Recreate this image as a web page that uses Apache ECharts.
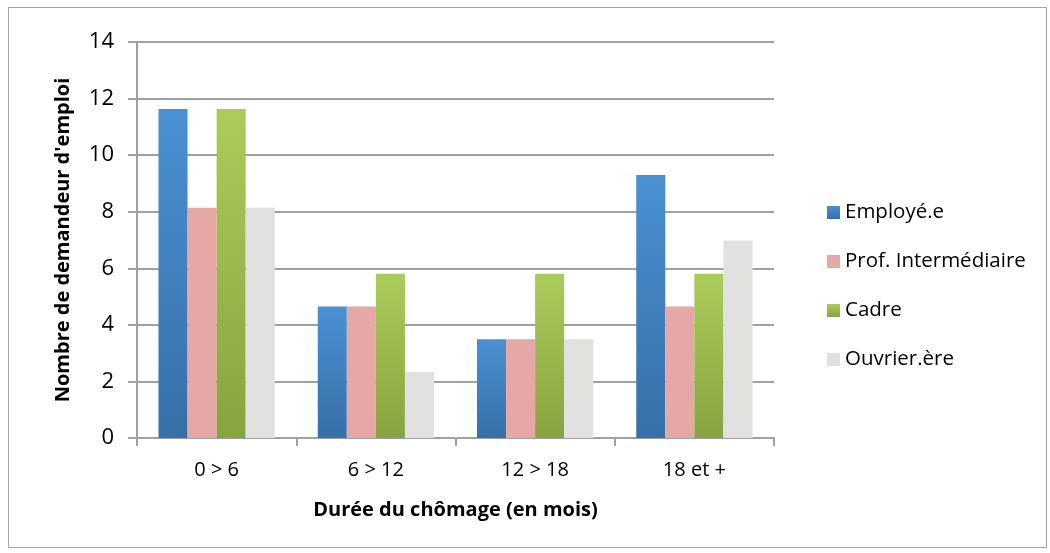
<!DOCTYPE html>
<html><head><meta charset="utf-8">
<script src="https://cdn.jsdelivr.net/npm/echarts@6/dist/echarts.min.js"></script>
<style>
html,body{margin:0;padding:0;background:#fff;}
#frame{position:absolute;left:8px;top:7px;width:1039px;height:541px;border:1.5px solid #a6a6a6;box-sizing:border-box;}
#c{position:absolute;left:0;top:0;width:1050px;height:553px;}
</style></head>
<body>
<div id="frame"></div>
<div id="c"></div>
<script>
const categories = ['0 > 6', '6 > 12', '12 > 18', '18 et +'];
const employe = [11.63, 4.65, 3.49, 9.30];
const profInter = [8.14, 4.65, 3.49, 4.65];
const cadre = [11.63, 5.81, 5.81, 5.81];
const ouvrier = [8.14, 2.33, 3.49, 6.98];
const yTicks = [0, 2, 4, 6, 8, 10, 12, 14];

const font = 'Open Sans, Lato, sans-serif';
function grad(top, bottom){
  return new echarts.graphic.LinearGradient(0,0,0,1,[{offset:0,color:top},{offset:1,color:bottom}]);
}
const chart = echarts.init(document.getElementById('c'), null, {renderer:'canvas'});
chart.setOption({
  animation:false,
  backgroundColor:'transparent',
  grid:{left:137, right:276, top:42, bottom:115, containLabel:false},
  legend:{
    orient:'vertical', left:822, top:197, itemGap:28, itemWidth:13, itemHeight:13,
    icon:'rect',
    textStyle:{fontFamily:font, fontSize:20.5, color:'#000', padding:[0,0,0,0]},
    data:['Employé.e','Prof. Intermédiaire','Cadre','Ouvrier.ère']
  },
  xAxis:{
    type:'category', data:categories,
    name:'Durée du chômage (en mois)', nameLocation:'middle', nameGap:62,
    nameTextStyle:{fontFamily:font, fontSize:20, fontWeight:'bold', color:'#000'},
    axisLine:{lineStyle:{color:'#a0a0a0', width:2}},
    axisTick:{show:true, length:8, lineStyle:{color:'#a0a0a0', width:2}},
    axisLabel:{fontFamily:font, fontSize:20, color:'#000', margin:22}
  },
  yAxis:{
    type:'value', min:0, max:14, interval:2,
    name:"Nombre de demandeur d'emploi", nameLocation:'middle', nameGap:64,
    nameTextStyle:{fontFamily:font, fontSize:20, fontWeight:'bold', color:'#000'},
    axisLine:{show:true, lineStyle:{color:'#a0a0a0', width:2}},
    axisTick:{show:true, length:9, lineStyle:{color:'#a0a0a0', width:2}},
    axisLabel:{fontFamily:font, fontSize:22, color:'#000', margin:23,
      formatter:v=> yTicks.includes(v) ? String(v) : ''},
    splitLine:{lineStyle:{color:'#a0a0a0', width:2}}
  },
  series:[
    {name:'Employé.e', type:'bar', data:employe, barGap:'0%', barCategoryGap:'27%',
      itemStyle:{color:grad('#4a91d2','#3670a9')}},
    {name:'Prof. Intermédiaire', type:'bar', data:profInter,
      itemStyle:{color:'#e5a8a6'}},
    {name:'Cadre', type:'bar', data:cadre,
      itemStyle:{color:grad('#abcc5a','#87a340')}},
    {name:'Ouvrier.ère', type:'bar', data:ouvrier,
      itemStyle:{color:'#e2e1df'}}
  ]
});
</script>
</body></html>
